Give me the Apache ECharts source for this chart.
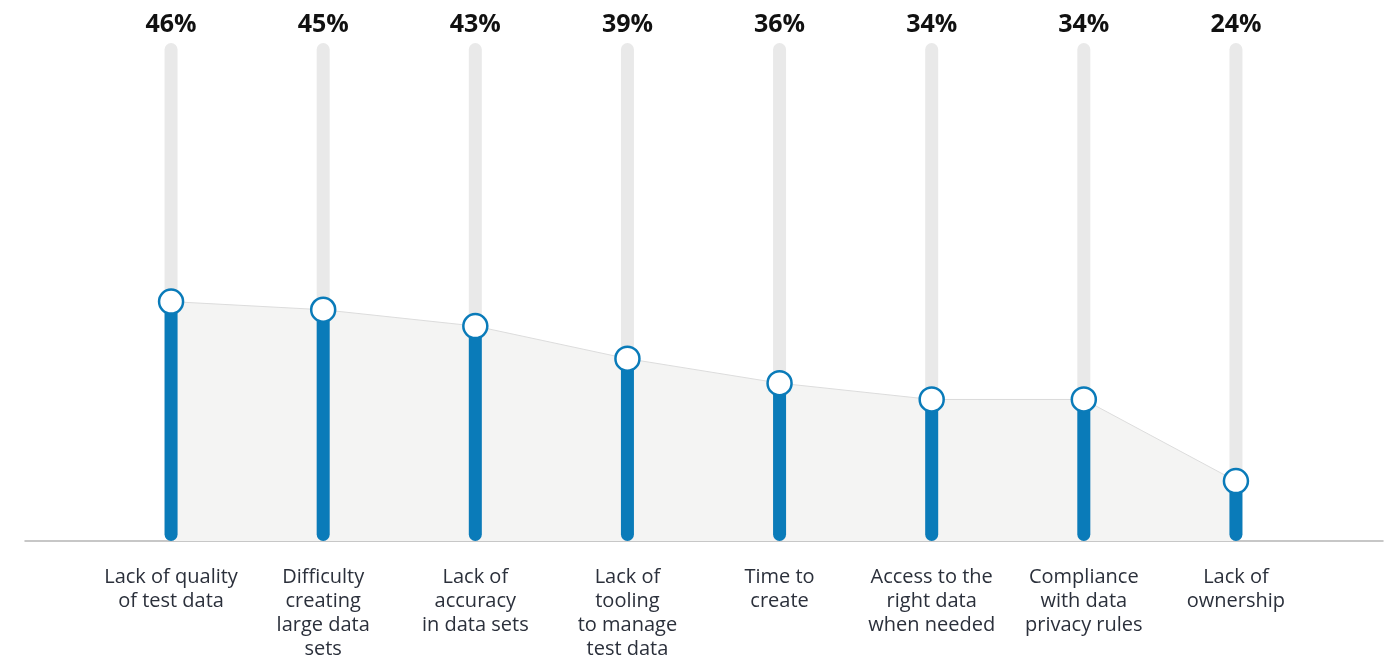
<!DOCTYPE html>
<html>
<head>
<meta charset="utf-8">
<script src="https://cdn.jsdelivr.net/npm/echarts@6/dist/echarts.min.js"></script>
<style>
  html, body { margin: 0; padding: 0; background: #fff; }
  #chart { width: 1397px; height: 658px; }
</style>
</head>
<body>
<div id="chart"></div>
<script>
var categories = [
    'Lack of quality\nof test data',
    'Difficulty\ncreating\nlarge data\nsets',
    'Lack of\naccuracy\nin data sets',
    'Lack of\ntooling\nto manage\ntest data',
    'Time to\ncreate',
    'Access to the\nright data\nwhen needed',
    'Compliance\nwith data\nprivacy rules',
    'Lack of\nownership'
];
var shares = [46, 45, 43, 39, 36, 34, 34, 24];
var percentLabels = shares.map(function (v) { return v + '%'; });

var blue = '#0a7bb9';
var font = "'Open Sans', 'Noto Sans', sans-serif";

var myChart = echarts.init(document.getElementById('chart'), null, {renderer: 'canvas'});

var option = {
    animation: false,
    textStyle: { fontFamily: font },
    grid: [
        { left: 95, right: 85, top: 43, bottom: 117, outerBoundsMode: 'none', containLabel: false },
        { left: 25, right: 14, top: 43, bottom: 117, outerBoundsMode: 'none', containLabel: false }
    ],
    xAxis: [
        {
            type: 'category', gridIndex: 0, data: categories,
            axisLine: { show: false }, axisTick: { show: false },
            axisLabel: {
                interval: 0, margin: 24, color: '#2b303b',
                fontSize: 20, lineHeight: 24, fontFamily: font
            }
        },
        {
            type: 'category', gridIndex: 0, position: 'top', data: percentLabels,
            axisLine: { show: false }, axisTick: { show: false },
            axisLabel: {
                interval: 0, margin: 6, color: '#111',
                fontSize: 25, fontWeight: 'bold', fontFamily: font
            }
        },
        {
            type: 'value', gridIndex: 1, min: 0, max: 1,
            axisLine: { show: true, lineStyle: { color: '#b5b5b5', width: 1.5 } },
            axisTick: { show: false }, axisLabel: { show: false }, splitLine: { show: false }
        }
    ],
    yAxis: [
        { type: 'value', gridIndex: 0, min: 16.65, max: 77.7, show: false, splitLine: { show: false } },
        { type: 'value', gridIndex: 1, show: false, splitLine: { show: false } }
    ],
    series: [
        {
            type: 'line', xAxisIndex: 0, yAxisIndex: 0, data: shares,
            symbol: 'none', z: 1,
            lineStyle: { color: '#dcdcdc', width: 1 },
            areaStyle: { color: '#f4f4f3', origin: 'start', opacity: 1 }
        },
        {
            type: 'bar', xAxisIndex: 0, yAxisIndex: 0, data: shares,
            barWidth: 13, z: 2,
            showBackground: true,
            backgroundStyle: { color: '#e9e9e9', borderRadius: 6.5 },
            itemStyle: { color: blue, borderRadius: 6.5 }
        },
        {
            type: 'scatter', xAxisIndex: 0, yAxisIndex: 0, data: shares,
            symbol: 'circle', symbolSize: 24, z: 3,
            itemStyle: { color: '#fff', borderColor: blue, borderWidth: 2.5, opacity: 1 }
        }
    ]
};

myChart.setOption(option);
</script>
</body>
</html>
